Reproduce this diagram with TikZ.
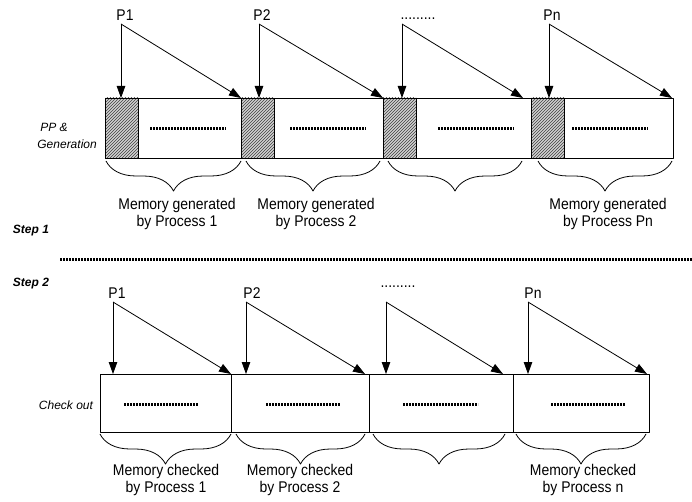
\documentclass[tikz,border=0pt]{standalone}
\usepackage{fontspec}
\setmainfont{Liberation Sans}
\newfontfamily\narrowsf{Liberation Sans}[FakeStretch=0.9]
\usetikzlibrary{arrows.meta,patterns,decorations.pathreplacing}
\tikzset{
	lbl/.style={inner sep=0pt,anchor=base},
	sidelbl/.style={inner sep=0pt,align=left,font=\fontsize{12}{17}\selectfont\itshape},
	steplbl/.style={inner sep=0pt,font=\fontsize{12}{14}\selectfont\bfseries\itshape},
	memlbl/.style={inner sep=0pt,align=center},
	fillline/.style={line width=3pt,dash pattern=on 2pt off 1pt},
	brc/.style={decorate,decoration={brace,mirror,amplitude=30pt}},
}
\begin{document}
\begin{tikzpicture}[>={Triangle[length=12pt,width=8.5pt]},line join=round,line width=0.8pt,x=1pt,y=-1pt,font=\narrowsf\fontsize{15.5}{17.5}\selectfont]
	\useasboundingbox (0,0) rectangle (692,502);
	
	% step 1 : generation
	\draw (105,98) rectangle (673,158);
	\foreach \x in {241,383,531} \draw (\x,98)--(\x,158);
	\foreach \x in {105,241,383,531}{
		\fill[gray!35] (\x,98) rectangle ++(33,60);
		\fill[pattern=north east lines,pattern color=black!75] (\x,98) rectangle ++(33,60);
		\draw (\x,98) rectangle ++(33,60);
	}
	\foreach \a/\b in {150/226,290/366,438/514,572/648} \draw[fillline] (\a,129)--(\b,129);
	\foreach \n/\lab/\lx/\ly/\ox/\tx in {1/P1/125/21/121/241,2/P2/262/21/259/383,3/{.........}/418/20/402/523,4/Pn/552/21/549/672}{
		\node[lbl] (ga\n) at (\lx,\ly) {\lab};
		\coordinate (go\n) at (\ox,24);
		\coordinate (gd\n) at (\ox,98);
		\coordinate (ge\n) at (\tx,98);
		\draw[->] (go\n)--(gd\n);
		\draw[->] (go\n)--(ge\n);
	}
	\foreach \a/\b in {106/241,246/380,388/522,538/672} \draw[brc] (\a,161)--(\b,161);
	\node[memlbl] (gm1) at (177,214) {Memory generated\\by Process 1};
	\node[memlbl] (gm2) at (316,214) {Memory generated\\by Process 2};
	\node[memlbl] (gm4) at (608,214) {Memory generated\\by Process Pn};
	\node[sidelbl,anchor=west] (gen) at (37,136) {\hspace*{3pt}PP \&\\Generation};
	\node[steplbl] (st1) at (31,231) {Step 1};
	
	\draw[fillline] (60,259.5)--(692,259.5);
	
	% step 2 : check out
	\node[steplbl] (st2) at (31,284) {Step 2};
	\draw (100,374) rectangle (649,432);
	\foreach \x in {231,369,513} \draw (\x,374)--(\x,432);
	\foreach \a/\b in {124/198,266/340,403/478,551/625} \draw[fillline] (\a,404)--(\b,404);
	\foreach \n/\lab/\lx/\ly/\ox/\tx in {1/P1/117/298/113/231,2/P2/252/298/246/365,3/{.........}/398/287/386/503,4/Pn/533/298/528/647}{
		\node[lbl] (ca\n) at (\lx,\ly) {\lab};
		\coordinate (co\n) at (\ox,302);
		\coordinate (cd\n) at (\ox,374);
		\coordinate (ce\n) at (\tx,374);
		\draw[->] (co\n)--(cd\n);
		\draw[->] (co\n)--(ce\n);
	}
	\foreach \a/\b in {100/231,236/365,373/505,516/646} \draw[brc] (\a,434)--(\b,434);
	\node[memlbl] (cm1) at (166,480) {Memory checked\\by Process 1};
	\node[memlbl] (cm2) at (300,480) {Memory checked\\by Process 2};
	\node[memlbl] (cm4) at (583,480) {Memory checked\\by Process n};
	\node[sidelbl] (chk) at (66,405) {Check out};
\end{tikzpicture}
\end{document}
